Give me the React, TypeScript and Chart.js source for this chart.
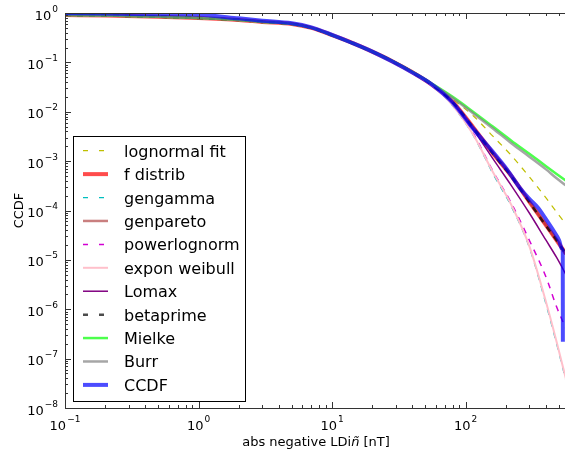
import React, { useEffect, useRef } from 'react';
import { Chart, registerables } from 'chart.js';
Chart.register(...registerables);

// x grid shared by the fitted distributions
const xGrid = [0.1, 0.2, 0.5, 1, 2, 3, 5, 7, 10, 14, 20, 28, 40, 56, 80, 115, 160, 220, 300, 400, 480, 565];

const lognormalFit = [0.91, 0.89, 0.84, 0.79, 0.72, 0.66, 0.6, 0.5, 0.36, 0.255, 0.17, 0.11, 0.066, 0.038, 0.018, 8.1e-3, 3.2e-3, 1.3e-3, 4.8e-4, 1.8e-4, 9.3e-5, 5.2e-5];
const fDistrib = [0.91, 0.89, 0.84, 0.79, 0.72, 0.66, 0.6, 0.5, 0.355, 0.25, 0.165, 0.107, 0.063, 0.035, 0.0158, 4.7e-3, 1.45e-3, 5.0e-4, 1.5e-4, 5.0e-5, 2.5e-5, 1.32e-5];
const gengamma = [0.91, 0.89, 0.84, 0.79, 0.72, 0.66, 0.6, 0.5, 0.355, 0.25, 0.165, 0.106, 0.062, 0.034, 0.0132, 3.2e-3, 5.6e-4, 1.2e-4, 1.78e-5, 1.26e-6, 2.0e-7, 3.5e-8];
const genpareto = [0.91, 0.89, 0.84, 0.79, 0.72, 0.66, 0.6, 0.5, 0.355, 0.25, 0.165, 0.107, 0.063, 0.035, 0.0157, 4.7e-3, 1.45e-3, 4.9e-4, 1.5e-4, 5.0e-5, 2.5e-5, 1.3e-5];
const powerlognorm = [0.91, 0.89, 0.84, 0.79, 0.72, 0.66, 0.6, 0.5, 0.355, 0.25, 0.165, 0.106, 0.062, 0.034, 0.0141, 3.5e-3, 6.3e-4, 1.41e-4, 2.5e-5, 4.5e-6, 1.12e-6, 4.0e-7];
const exponWeibull = [0.91, 0.89, 0.84, 0.79, 0.72, 0.66, 0.6, 0.5, 0.355, 0.25, 0.165, 0.106, 0.062, 0.034, 0.0135, 3.3e-3, 6.0e-4, 1.3e-4, 1.9e-5, 1.4e-6, 2.2e-7, 3.8e-8];
const lomax = [0.91, 0.89, 0.84, 0.79, 0.72, 0.66, 0.6, 0.5, 0.355, 0.25, 0.165, 0.107, 0.063, 0.035, 0.0151, 4.2e-3, 1.12e-3, 3.2e-4, 8.9e-5, 2.5e-5, 1.12e-5, 5.0e-6];
const betaprime = [0.91, 0.89, 0.84, 0.79, 0.72, 0.66, 0.6, 0.5, 0.355, 0.25, 0.165, 0.107, 0.063, 0.035, 0.0156, 4.6e-3, 1.42e-3, 4.9e-4, 1.48e-4, 4.9e-5, 2.5e-5, 1.3e-5];
const mielke = [0.91, 0.89, 0.84, 0.79, 0.72, 0.66, 0.6, 0.5, 0.355, 0.25, 0.166, 0.108, 0.064, 0.037, 0.020, 9.8e-3, 5.0e-3, 2.6e-3, 1.41e-3, 7.9e-4, 5.5e-4, 4.0e-4];
const burr = [0.91, 0.89, 0.84, 0.79, 0.72, 0.66, 0.6, 0.5, 0.355, 0.25, 0.166, 0.108, 0.064, 0.037, 0.019, 9.1e-3, 4.6e-3, 2.3e-3, 1.23e-3, 6.8e-4, 4.5e-4, 3.2e-4];

// empirical CCDF
const ccdfX = [0.1, 0.2, 0.5, 1, 2, 3, 5, 7, 10, 14, 20, 28, 40, 56, 79, 115, 158, 204, 257, 295, 347, 398, 447, 501, 527, 534, 535];
const ccdfY = [0.99, 0.975, 0.945, 0.92, 0.78, 0.70, 0.62, 0.51, 0.36, 0.25, 0.165, 0.105, 0.062, 0.0355, 0.0158, 4.4e-3, 1.6e-3, 6.8e-4, 2.8e-4, 1.8e-4, 1.15e-4, 6.8e-5, 4.2e-5, 2.5e-5, 1.66e-5, 1.5e-5, 2.2e-7];

const xDecades = [-1, 0, 1, 2];
const yDecades = [0, -1, -2, -3, -4, -5, -6, -7, -8];

const X_MIN = 0.1;
const X_MAX = 555;
const Y_MIN = 1e-8;
const Y_MAX = 1;

const seriesDefs = [
  { label: 'lognormal fit', xs: xGrid, ys: lognormalFit, color: 'rgb(191,191,0)', width: 1.2, dash: [6, 6] },
  { label: 'f distrib', xs: xGrid, ys: fDistrib, color: 'rgba(255,0,0,0.7)', width: 4, dash: [] },
  { label: 'gengamma', xs: xGrid, ys: gengamma, color: 'rgb(0,191,191)', width: 1.2, dash: [6, 6] },
  { label: 'genpareto', xs: xGrid, ys: genpareto, color: 'rgba(165,42,42,0.6)', width: 2.5, dash: [] },
  { label: 'powerlognorm', xs: xGrid, ys: powerlognorm, color: 'rgb(210,0,210)', width: 1.5, dash: [6, 6] },
  { label: 'expon weibull', xs: xGrid, ys: exponWeibull, color: 'rgb(255,192,203)', width: 2, dash: [] },
  { label: 'Lomax', xs: xGrid, ys: lomax, color: 'rgb(128,0,128)', width: 1.5, dash: [] },
  { label: 'betaprime', xs: xGrid, ys: betaprime, color: 'rgba(0,0,0,0.7)', width: 2.5, dash: [6, 6] },
  { label: 'Mielke', xs: xGrid, ys: mielke, color: 'rgba(0,255,0,0.7)', width: 2.5, dash: [] },
  { label: 'Burr', xs: xGrid, ys: burr, color: 'rgba(128,128,128,0.7)', width: 2.5, dash: [] },
  { label: 'CCDF', xs: ccdfX, ys: ccdfY, color: 'rgba(0,0,255,0.7)', width: 4, dash: [] },
];

const FONT = '"DejaVu Sans", Verdana, sans-serif';

function drawPow(ctx: CanvasRenderingContext2D, exp: number, anchor: number, baseline: number, mode: 'center' | 'right') {
  const base = '10';
  const sup = exp < 0 ? '\u2212' + String(-exp) : String(exp);
  ctx.font = '13px ' + FONT;
  const wb = ctx.measureText(base).width;
  ctx.font = '9px ' + FONT;
  const ws = ctx.measureText(sup).width;
  const total = wb + 1 + ws;
  const start = mode === 'center' ? anchor - total / 2 : anchor - total;
  ctx.fillStyle = '#000';
  ctx.textAlign = 'left';
  ctx.textBaseline = 'alphabetic';
  ctx.font = '13px ' + FONT;
  ctx.fillText(base, start, baseline);
  ctx.font = '9px ' + FONT;
  ctx.fillText(sup, start + wb + 1, baseline - 8);
}

const decorPlugin = {
  id: 'decor',
  afterDraw(chart: any) {
    const ctx: CanvasRenderingContext2D = chart.ctx;
    const a = chart.chartArea;
    const xs = chart.scales.x;
    const ys = chart.scales.y;
    ctx.save();
    ctx.strokeStyle = '#333';
    ctx.lineWidth = 1;
    ctx.setLineDash([]);
    // ticks
    ctx.beginPath();
    for (const d of [-1, 0, 1, 2, 3]) {
      for (let m = 1; m <= 9; m++) {
        const v = m * Math.pow(10, d);
        if (v < X_MIN - 1e-9 || v > X_MAX) continue;
        const px = Math.round(xs.getPixelForValue(v)) + 0.5;
        const len = m === 1 ? 6 : 3;
        ctx.moveTo(px, a.bottom);
        ctx.lineTo(px, a.bottom - len);
        ctx.moveTo(px, a.top);
        ctx.lineTo(px, a.top + len);
      }
    }
    for (let d = -8; d <= 0; d++) {
      for (let m = 1; m <= 9; m++) {
        const v = m * Math.pow(10, d);
        if (v < Y_MIN * 0.999 || v > Y_MAX * 1.001) continue;
        const py = Math.round(ys.getPixelForValue(v)) + 0.5;
        const len = m === 1 ? 6 : 3;
        ctx.moveTo(a.left, py);
        ctx.lineTo(a.left + len, py);
      }
    }
    ctx.stroke();
    // frame
    ctx.beginPath();
    const L = Math.round(a.left) + 0.5;
    const T = Math.round(a.top) + 0.5;
    const B = Math.round(a.bottom) + 0.5;
    ctx.moveTo(a.right + 1, T);
    ctx.lineTo(L, T);
    ctx.lineTo(L, B);
    ctx.lineTo(a.right + 1, B);
    ctx.stroke();

    // tick labels
    for (const d of xDecades) {
      const px = xs.getPixelForValue(Math.pow(10, d));
      drawPow(ctx, d, px, a.bottom + 21.5, 'center');
    }
    for (const d of yDecades) {
      const py = ys.getPixelForValue(Math.pow(10, d));
      drawPow(ctx, d, a.left - 7, py + 6.5, 'right');
    }

    // axis titles
    ctx.fillStyle = '#000';
    ctx.textBaseline = 'alphabetic';
    const p1 = 'abs negative LDi';
    const p2 = 'ñ';
    const p3 = ' [nT]';
    ctx.font = '13px ' + FONT;
    const w1 = ctx.measureText(p1).width;
    const w3 = ctx.measureText(p3).width;
    ctx.font = 'italic 13px ' + FONT;
    const w2 = ctx.measureText(p2).width;
    const sx = 316 - (w1 + w2 + w3) / 2;
    ctx.textAlign = 'left';
    ctx.font = '13px ' + FONT;
    ctx.fillText(p1, sx, 446);
    ctx.font = 'italic 13px ' + FONT;
    ctx.fillText(p2, sx + w1, 446);
    ctx.font = '13px ' + FONT;
    ctx.fillText(p3, sx + w1 + w2, 446);

    ctx.save();
    ctx.translate(23, (a.top + a.bottom) / 2);
    ctx.rotate(-Math.PI / 2);
    ctx.textAlign = 'center';
    ctx.font = '13px ' + FONT;
    ctx.fillText('CCDF', 0, 0);
    ctx.restore();

    // legend
    const bx = 73, by = 136, bw = 172, bh = 265;
    ctx.fillStyle = '#fff';
    ctx.fillRect(bx, by, bw, bh);
    ctx.strokeStyle = '#000';
    ctx.lineWidth = 1;
    ctx.strokeRect(bx + 0.5, by + 0.5, bw, bh);
    seriesDefs.forEach((s, i) => {
      const yy = 150.7 + 23.42 * i;
      ctx.beginPath();
      ctx.strokeStyle = s.color;
      ctx.lineWidth = s.width;
      ctx.setLineDash(s.dash.length ? [5, 11] : []);
      ctx.moveTo(83, yy);
      ctx.lineTo(108, yy);
      ctx.stroke();
      ctx.setLineDash([]);
      ctx.fillStyle = '#000';
      ctx.font = '16px ' + FONT;
      ctx.textAlign = 'left';
      ctx.textBaseline = 'alphabetic';
      ctx.fillText(s.label, 124, yy + 6);
    });
    ctx.restore();
  },
};

export default function App() {
  const ref = useRef<HTMLCanvasElement>(null);
  useEffect(() => {
    if (!ref.current) return;
    const n = seriesDefs.length;
    const chart = new Chart(ref.current, {
      type: 'line',
      data: {
        datasets: seriesDefs.map((s, i) => ({
          label: s.label,
          data: s.xs.map((x, j) => ({ x, y: s.ys[j] })),
          borderColor: s.color,
          backgroundColor: s.color,
          borderWidth: s.width,
          borderDash: s.dash,
          pointRadius: 0,
          fill: false,
          cubicInterpolationMode: 'monotone',
          order: n - i,
        })),
      },
      options: {
        responsive: false,
        animation: false,
        devicePixelRatio: 1,
        events: [],
        layout: { padding: { top: 13, left: 0, right: 0, bottom: 0 } },
        plugins: { legend: { display: false }, tooltip: { enabled: false } },
        scales: {
          x: {
            type: 'logarithmic',
            min: X_MIN,
            max: X_MAX,
            ticks: { display: false },
            grid: { display: false, drawTicks: false },
            border: { display: false },
            afterFit: (s: any) => { s.height = 49; },
          },
          y: {
            type: 'logarithmic',
            min: Y_MIN,
            max: Y_MAX,
            ticks: { display: false },
            grid: { display: false, drawTicks: false },
            border: { display: false },
            afterFit: (s: any) => { s.width = 65; },
          },
        },
      } as any,
      plugins: [decorPlugin],
    });
    return () => chart.destroy();
  }, []);
  return (
    <div style={{ position: 'fixed', left: 0, top: 0, width: 565, height: 457, background: '#fff' }}>
      <canvas ref={ref} width={565} height={457} style={{ display: 'block' }} />
    </div>
  );
}
